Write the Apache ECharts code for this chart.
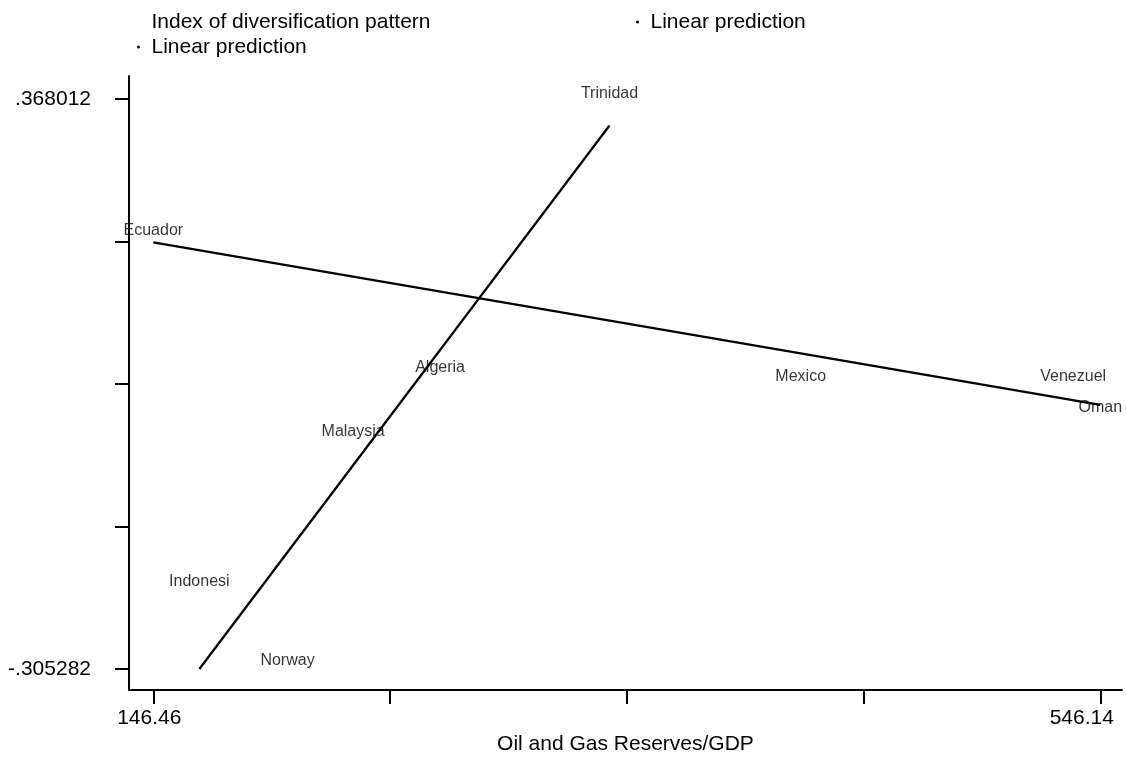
<!DOCTYPE html>
<html><head><meta charset="utf-8">
<script src="https://cdn.jsdelivr.net/npm/echarts@6/dist/echarts.min.js"></script>
<style>html,body{margin:0;padding:0;background:#fff}#c{width:1126px;height:757px}</style>
</head><body><div id="c"></div>
<script>
// Observed points (label = country)
const countries = ['Algeria','Ecuador','Indonesi','Malaysia','Mexico','Norway','Oman','Trinidad','Venezuel'];
const reserves = [267.5, 146.46, 165.9, 230.8, 419.7, 203.1, 546.14, 339.0, 534.7];
const diversification = [0.0444, 0.2062, -0.2084, -0.0315, 0.0341, -0.3023, -0.0029, 0.368012, 0.0341];

// Linear prediction, group A (data order)
const groupAX = [267.5, 165.9, 230.8, 203.1, 339.0];
const groupAPred = [0.0715, -0.305282, -0.0646, -0.1673, 0.3367];
// Linear prediction, group B (data order)
const groupBX = [146.46, 419.7, 546.14, 534.7];
const groupBPred = [0.1987, 0.0674, 0.0066, 0.0121];

// Ticks and labels
const xTicks = [146.46, 246.38, 346.30, 446.22, 546.14];
const xLabelValues = [146.46, 546.14];
const xLabelTexts = ['146.46', '546.14'];
const yTicks = [-0.305282, -0.136958, 0.031365, 0.199688, 0.368012];
const yLabelValues = [-0.305282, 0.368012];
const yLabelTexts = ['-.305282', '.368012'];

const FONT = 'Liberation Sans, Arial, Helvetica, sans-serif';
const scatterData = countries.map((c, i) => [reserves[i], diversification[i], c]);
const lineA = groupAX.map((x, i) => [x, groupAPred[i]]);
const lineB = groupBX.map((x, i) => [x, groupBPred[i]]);

function findLabel(vals, v) {
  for (let i = 0; i < vals.length; i++) if (Math.abs(vals[i] - v) < 1e-6) return i;
  return -1;
}

const legendBase = {
  orient: 'horizontal', padding: 0, itemWidth: 16, itemHeight: 3, itemGap: 10,
  selectedMode: false,
  textStyle: {fontSize: 21, fontFamily: FONT, color: '#000', lineHeight: 24}
};

const chart = echarts.init(document.getElementById('c'), null, {renderer: 'canvas'});
chart.setOption({
  animation: false,
  backgroundColor: '#fff',
  textStyle: {fontFamily: FONT},
  grid: {left: 129, right: 4, top: 76, bottom: 67, outerBoundsMode: 'none', containLabel: false},
  legend: [
    Object.assign({}, legendBase, {left: 137, top: 10,
      data: [{name: 'Index of diversification pattern', icon: 'circle', itemStyle: {color: 'rgba(0,0,0,0)'}}]}),
    Object.assign({}, legendBase, {left: 636, top: 10,
      data: [{name: 'Linear prediction', icon: 'circle', itemStyle: {color: '#000'}}]}),
    Object.assign({}, legendBase, {left: 137, top: 35,
      data: [{name: 'Linear prediction', icon: 'circle', itemStyle: {color: '#000'}}]})
  ],
  xAxis: {
    type: 'value', min: 136.2, max: 555.3,
    name: 'Oil and Gas Reserves/GDP', nameLocation: 'middle', nameGap: 44,
    nameTextStyle: {fontSize: 21, fontFamily: FONT, color: '#000'},
    axisLine: {show: true, onZero: false, lineStyle: {color: '#000', width: 2}},
    axisTick: {show: true, inside: false, length: 14, customValues: xTicks, lineStyle: {color: '#000', width: 2}},
    splitLine: {show: false},
    axisLabel: {
      show: true, customValues: xLabelValues, margin: 18,
      fontSize: 21, fontFamily: FONT, color: '#000',
      formatter: function (v) {
        const i = findLabel(xLabelValues, v);
        if (i < 0) return '';
        return i === 0 ? '{a|' + xLabelTexts[i] + '}' : '{b|' + xLabelTexts[i] + '}';
      },
      rich: {
        a: {fontSize: 21, fontFamily: FONT, color: '#000', padding: [0, 8, 0, 0]},
        b: {fontSize: 21, fontFamily: FONT, color: '#000', padding: [0, 37, 0, 0]}
      }
    }
  },
  yAxis: {
    type: 'value', min: -0.3301, max: 0.39518,
    axisLine: {show: true, onZero: false, lineStyle: {color: '#000', width: 2}},
    axisTick: {show: true, inside: false, length: 14, customValues: yTicks, lineStyle: {color: '#000', width: 2}},
    splitLine: {show: false},
    axisLabel: {
      show: true, customValues: yLabelValues, margin: 38,
      fontSize: 21, fontFamily: FONT, color: '#000',
      formatter: function (v) {
        const i = findLabel(yLabelValues, v);
        return i < 0 ? '' : yLabelTexts[i];
      }
    }
  },
  series: [
    {
      name: 'Index of diversification pattern', type: 'scatter',
      data: scatterData, symbol: 'circle', symbolSize: 1,
      itemStyle: {color: 'rgba(0,0,0,0)'},
      label: {
        show: true, position: 'inside', offset: [0, -5.5],
        formatter: p => p.data[2],
        fontSize: 16, fontFamily: FONT, color: '#000'
      },
      emphasis: {disabled: true}
    },
    {
      name: 'Linear prediction', type: 'line', data: lineA,
      symbol: 'none', color: '#000', itemStyle: {color: '#000'},
      lineStyle: {color: '#000', width: 2.3}, emphasis: {disabled: true}
    },
    {
      name: 'Linear prediction', type: 'line', data: lineB,
      symbol: 'none', color: '#000', itemStyle: {color: '#000'},
      lineStyle: {color: '#000', width: 2.3}, emphasis: {disabled: true}
    }
  ]
});
</script>
</body></html>
